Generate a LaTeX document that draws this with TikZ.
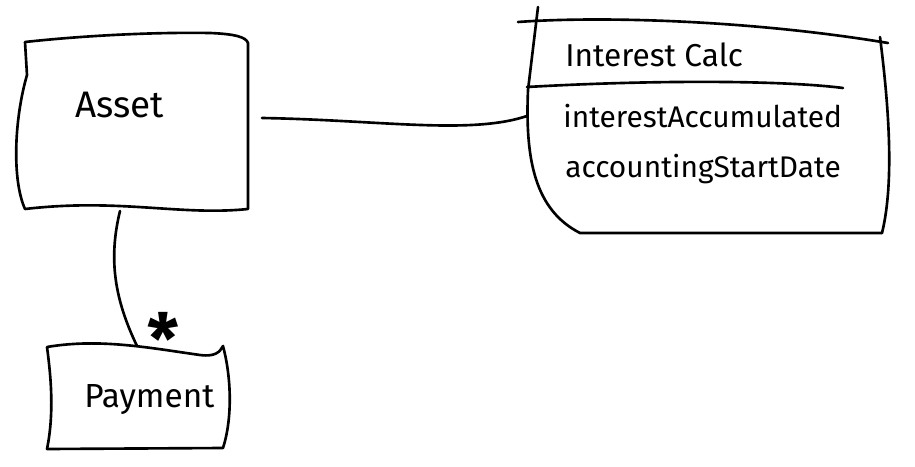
\documentclass[tikz,border=0pt]{standalone}
\usepackage{fontspec}
\setmainfont{Fira Sans}
\usetikzlibrary{calc}

\begin{document}
\begin{tikzpicture}[x=0.02cm, y=-0.02cm]

\useasboundingbox (0, 0) rectangle (915, 466) ;

\tikzstyle{sketch line} = [line width=1.5pt, color=black, line cap=round, line join=round]
\tikzstyle{sketch name} = [anchor=base west, inner sep=0pt, font=\fontsize{21}{24}\selectfont]
\tikzstyle{sketch field} = [anchor=base west, inner sep=0pt, font=\fontsize{17}{20}\selectfont]

% asset

\draw [sketch line]
	(25, 42) .. controls (80, 36) and (150, 32) .. (210, 33)
		.. controls (235, 34) and (246, 37) .. (248, 43)
	-- (248, 209)
		.. controls (180, 216) and (120, 198) .. (25, 209)
		.. controls (12, 180) and (14, 120) .. (27, 75)
	-- cycle ;

\node [sketch name] (asset) at (75, 117) {Asset} ;

\coordinate (asset east) at (262, 118) ;
\coordinate (asset south) at (120, 211) ;

% payment

\draw [sketch line]
	(47, 347) .. controls (100, 338) and (150, 348) .. (200, 355)
		.. controls (215, 357) and (220, 352) .. (223, 346)
		.. controls (232, 380) and (232, 420) .. (223, 448)
	-- (47, 449)
		.. controls (55, 410) and (50, 370) .. cycle ;

\node [sketch name, font=\fontsize{19}{22}\selectfont] (payment) at (84, 407) {Payment} ;

\coordinate (payment north) at (137, 346) ;

% interest calc

\draw [sketch line] (518, 22) .. controls (600, 16) and (750, 20) .. (888, 43) ;
\draw [sketch line] (538, 7) -- (528, 90) .. controls (525, 160) and (535, 210) .. (580, 233) -- (882, 233) ;
\draw [sketch line] (880, 37) .. controls (888, 100) and (895, 180) .. (882, 233) ;
\draw [sketch line] (527, 87) .. controls (650, 80) and (780, 80) .. (843, 88) ;

\node [sketch field, font=\fontsize{18}{21}\selectfont] (calc) at (565, 67) {Interest Calc} ;
\node [sketch field] (calc interest) at (563, 127) {interestAccumulated} ;
\node [sketch field] (calc start) at (565, 177) {accountingStartDate} ;

\coordinate (calc west) at (527, 116) ;

% associations

\draw [sketch line] (asset east) .. controls (380, 120) and (470, 135) .. (calc west) ;

\draw [sketch line] (asset south) .. controls (108, 260) and (115, 300) .. (payment north) ;

\node [inner sep=0pt, font=\fontsize{40}{40}\bfseries] (many) at (163, 338) {*} ;

\end{tikzpicture}
\end{document}
